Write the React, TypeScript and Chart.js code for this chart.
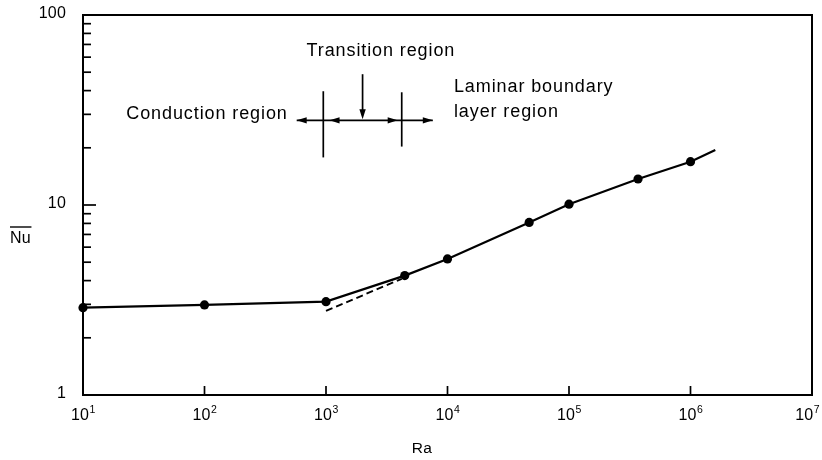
import React, { useEffect, useRef } from 'react';
import { Chart, registerables } from 'chart.js';

Chart.register(...registerables);

// ---- data ----
const raValues = [10, 100, 1000, 4450, 10000, 47000, 100000, 370000, 1000000, 1600000];
const nuValues = [2.88, 2.98, 3.1, 4.25, 5.2, 8.1, 10.1, 13.7, 16.9, 19.5];
const markerShown = [true, true, true, true, true, true, true, true, true, false];

const dashedRa = [1000, 4200];
const dashedNu = [2.77, 4.09];

const xTickValues = [1e1, 1e2, 1e3, 1e4, 1e5, 1e6, 1e7];
const xTickExponents = ['1', '2', '3', '4', '5', '6', '7'];
const yTickValues = [1, 10, 100];
const yTickLabels = ['1', '10', '100'];
const yMinorTickValues = [2, 3, 4, 5, 6, 7, 8, 9, 20, 30, 40, 50, 60, 70, 80, 90];

const xAxisTitle = 'Ra';
const yAxisTitle = 'Nu';

// region annotation anchors, in data units (Ra, Nu)
const boundaryRa = [950, 4200];
const boundaryNuTop = [39.7, 39.2];
const boundaryNuBottom = [17.8, 20.3];
const spanArrowNu = 27.9;
const spanArrowRa = [574, 7570];
const leftPointingTipsRa = [574, 1070];
const rightPointingTipsRa = [3890, 7570];
const transitionArrowRa = 2000;
const transitionArrowNu = [48.8, 28.3];

const regionLabels = ['Transition region', 'Laminar boundary', 'layer region', 'Conduction region'];
const regionLabelRa = [2830, 11300, 11300, 484];
const regionLabelNu = [60.8, 39.2, 28.9, 28.3];
const regionLabelAlign = ['center', 'left', 'left', 'right'];

const FONT = '"Liberation Sans", Arial, Helvetica, sans-serif';

function drawText(
  ctx: CanvasRenderingContext2D,
  text: string,
  x: number,
  y: number,
  size: number,
  align: CanvasTextAlign,
  spacing = '0px'
) {
  ctx.save();
  ctx.font = `${size}px ${FONT}`;
  (ctx as any).letterSpacing = spacing;
  ctx.textAlign = align;
  ctx.textBaseline = 'alphabetic';
  ctx.fillStyle = '#000';
  ctx.fillText(text, x, y);
  ctx.restore();
}

function arrowHead(ctx: CanvasRenderingContext2D, x: number, y: number, dir: 'left' | 'right' | 'down') {
  const L = 10;
  const W = 3.2;
  ctx.beginPath();
  if (dir === 'left') {
    ctx.moveTo(x, y);
    ctx.lineTo(x + L, y - W);
    ctx.lineTo(x + L, y + W);
  } else if (dir === 'right') {
    ctx.moveTo(x, y);
    ctx.lineTo(x - L, y - W);
    ctx.lineTo(x - L, y + W);
  } else {
    ctx.moveTo(x, y);
    ctx.lineTo(x - W, y - L);
    ctx.lineTo(x + W, y - L);
  }
  ctx.closePath();
  ctx.fill();
}

const framePlugin = {
  id: 'framePlugin',
  beforeDatasetsDraw(chart: any) {
    const { ctx, chartArea } = chart;
    const { left, right, top, bottom } = chartArea;
    ctx.save();
    ctx.strokeStyle = '#000';
    ctx.lineWidth = 2;
    ctx.strokeRect(left, top, right - left, bottom - top);
    ctx.restore();
  },
  afterDraw(chart: any) {
    const { ctx, chartArea, scales, width } = chart;
    const { left, right, top, bottom } = chartArea;
    const xs = scales.x;
    const ys = scales.y;
    ctx.save();
    ctx.strokeStyle = '#000';
    ctx.fillStyle = '#000';

    // x ticks (inward, major only)
    ctx.lineWidth = 1.7;
    xTickValues.forEach((v) => {
      const px = xs.getPixelForValue(v);
      if (px <= left + 1 || px >= right - 1) return;
      ctx.beginPath();
      ctx.moveTo(px, bottom);
      ctx.lineTo(px, bottom - 9);
      ctx.stroke();
    });
    // y ticks (inward)
    yTickValues.forEach((v) => {
      const py = ys.getPixelForValue(v);
      if (py <= top + 1 || py >= bottom - 1) return;
      ctx.beginPath();
      ctx.moveTo(left, py);
      ctx.lineTo(left + 13, py);
      ctx.stroke();
    });
    yMinorTickValues.forEach((v) => {
      const py = ys.getPixelForValue(v);
      ctx.beginPath();
      ctx.moveTo(left, py);
      ctx.lineTo(left + 8, py);
      ctx.stroke();
    });

    // y tick labels
    yTickValues.forEach((v, i) => {
      const py = ys.getPixelForValue(v);
      drawText(ctx, yTickLabels[i], left - 17, py + 3, 16, 'right', '0.2px');
    });
    // x tick labels: 10 with exponent
    xTickValues.forEach((v, i) => {
      const px = xs.getPixelForValue(v);
      ctx.save();
      ctx.font = `16px ${FONT}`;
      const w = ctx.measureText('10').width;
      ctx.font = `10.5px ${FONT}`;
      const we = ctx.measureText(xTickExponents[i]).width;
      ctx.restore();
      let x0 = px - 3 - w / 2;
      if (x0 + w + we + 3 > width) x0 = width - 3 - w - we;
      drawText(ctx, '10', x0, bottom + 25, 16, 'left');
      drawText(ctx, xTickExponents[i], x0 + w + 0.5, bottom + 18, 10.5, 'left');
    });

    // axis titles
    drawText(ctx, xAxisTitle, 422, 453, 15.5, 'center', '0.3px');
    ctx.save();
    ctx.font = `16px ${FONT}`;
    const nuW = ctx.measureText(yAxisTitle).width;
    ctx.restore();
    drawText(ctx, yAxisTitle, 10, 243, 16, 'left', '0.3px');
    ctx.lineWidth = 1.4;
    ctx.beginPath();
    ctx.moveTo(10, 227);
    ctx.lineTo(10 + nuW + 1, 227);
    ctx.stroke();

    // region annotation
    ctx.lineWidth = 1.7;
    boundaryRa.forEach((ra, i) => {
      const px = xs.getPixelForValue(ra);
      ctx.beginPath();
      ctx.moveTo(px, ys.getPixelForValue(boundaryNuTop[i]));
      ctx.lineTo(px, ys.getPixelForValue(boundaryNuBottom[i]));
      ctx.stroke();
    });
    const ay = ys.getPixelForValue(spanArrowNu);
    ctx.beginPath();
    ctx.moveTo(xs.getPixelForValue(spanArrowRa[0]), ay);
    ctx.lineTo(xs.getPixelForValue(spanArrowRa[1]), ay);
    ctx.stroke();
    leftPointingTipsRa.forEach((ra) => arrowHead(ctx, xs.getPixelForValue(ra), ay, 'left'));
    rightPointingTipsRa.forEach((ra) => arrowHead(ctx, xs.getPixelForValue(ra), ay, 'right'));
    const tx = xs.getPixelForValue(transitionArrowRa);
    const ty0 = ys.getPixelForValue(transitionArrowNu[0]);
    const ty1 = ys.getPixelForValue(transitionArrowNu[1]);
    ctx.beginPath();
    ctx.moveTo(tx, ty0);
    ctx.lineTo(tx, ty1 - 4);
    ctx.stroke();
    arrowHead(ctx, tx, ty1, 'down');

    regionLabels.forEach((t, i) => {
      drawText(
        ctx,
        t,
        xs.getPixelForValue(regionLabelRa[i]),
        ys.getPixelForValue(regionLabelNu[i]),
        18,
        regionLabelAlign[i] as CanvasTextAlign,
        '0.9px'
      );
    });

    ctx.restore();
  },
};

export default function App() {
  const ref = useRef<HTMLCanvasElement | null>(null);

  useEffect(() => {
    if (!ref.current) return;
    const chart = new Chart(ref.current, {
      type: 'line',
      data: {
        datasets: [
          {
            data: raValues.map((x, i) => ({ x, y: nuValues[i] })),
            borderColor: '#000',
            borderWidth: 2.2,
            pointRadius: markerShown.map((s) => (s ? 4.6 : 0)),
            pointBackgroundColor: '#000',
            pointBorderColor: '#000',
            pointBorderWidth: 0,
            tension: 0,
            clip: false as any,
          },
          {
            data: dashedRa.map((x, i) => ({ x, y: dashedNu[i] })),
            borderColor: '#000',
            borderWidth: 1.9,
            borderDash: [7, 4],
            pointRadius: 0,
            tension: 0,
          },
        ],
      },
      options: {
        responsive: false,
        animation: false,
        devicePixelRatio: 1,
        layout: { padding: { top: 15, right: 10, left: 0, bottom: 0 } },
        plugins: { legend: { display: false }, tooltip: { enabled: false } },
        scales: {
          x: {
            type: 'logarithmic',
            min: 10,
            max: 1e7,
            grid: { display: false, drawTicks: false },
            border: { display: false },
            ticks: { display: false },
            afterFit: (s: any) => {
              s.height = 65;
            },
          },
          y: {
            type: 'logarithmic',
            min: 1,
            max: 100,
            grid: { display: false, drawTicks: false },
            border: { display: false },
            ticks: { display: false },
            afterFit: (s: any) => {
              s.width = 83;
            },
          },
        },
      },
      plugins: [framePlugin],
    });
    return () => chart.destroy();
  }, []);

  return (
    <div style={{ position: 'absolute', left: 0, top: 0, width: 822, height: 460, background: '#fff' }}>
      <canvas ref={ref} width={822} height={460} style={{ display: 'block' }} />
    </div>
  );
}
